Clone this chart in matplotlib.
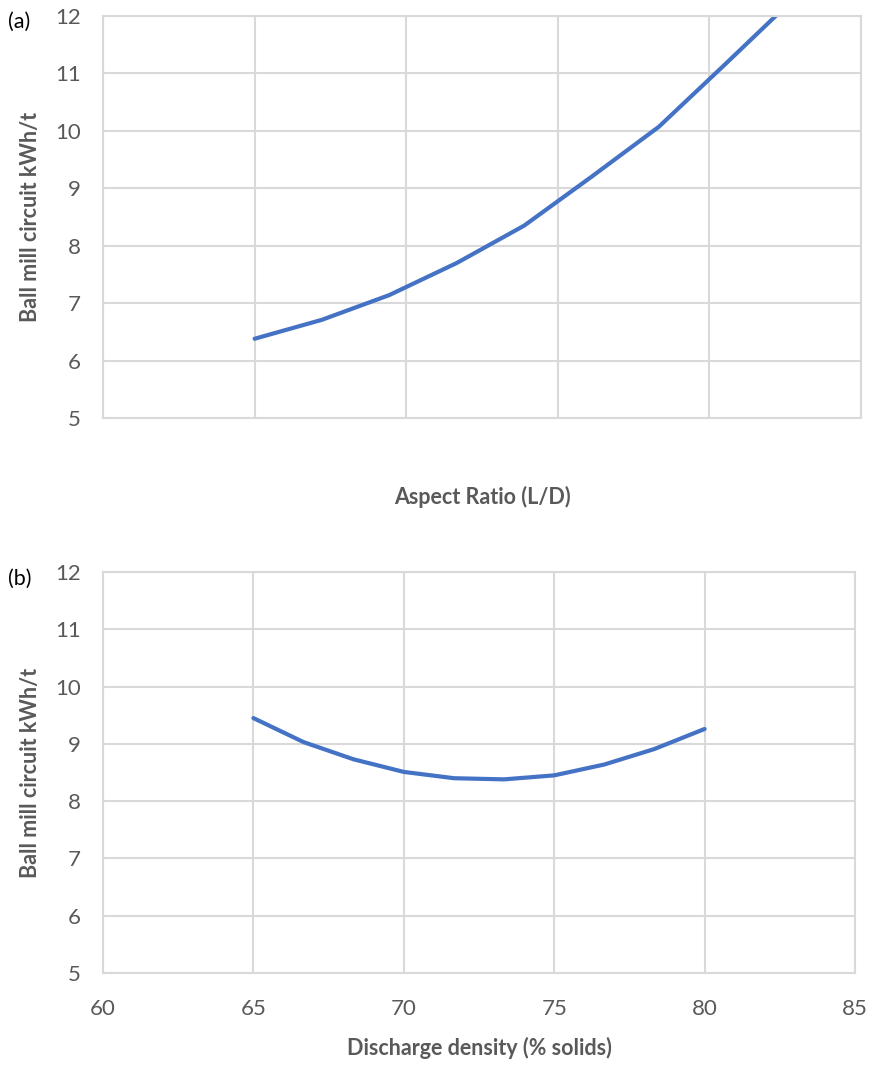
import numpy as np
import matplotlib.pyplot as plt

# ---- data ----
aspect_x = [65, 67.22, 69.44, 71.67, 73.89, 76.11, 78.33, 80.56, 82.78]
aspect_kwh = [6.38, 6.71, 7.14, 7.70, 8.35, 9.20, 10.07, 11.18, 12.30]

density_x = [65, 66.67, 68.33, 70, 71.67, 73.33, 75, 76.67, 78.33, 80]
density_kwh = [9.45, 9.03, 8.73, 8.51, 8.40, 8.38, 8.45, 8.64, 8.91, 9.26]

x_ticks = [60, 65, 70, 75, 80, 85]
y_ticks = [5, 6, 7, 8, 9, 10, 11, 12]

line_col = "#4472C4"
grid_col = "#D9D9D9"
text_col = "#595959"

plt.rcParams['font.family'] = ['Lato', 'DejaVu Sans']

fig = plt.figure(figsize=(8.7, 10.65), dpi=100)
ax_a = fig.add_axes([0.1184, 0.6075, 0.9897 - 0.1184, 0.985 - 0.6075])
ax_b = fig.add_axes([0.1184, 0.0864, 0.9828 - 0.1184, 0.4629 - 0.0864])

def style(ax, show_xlabels):
    ax.set_xlim(60, 85)
    ax.set_ylim(5, 12)
    ax.set_xticks(x_ticks)
    ax.set_yticks(y_ticks)
    ax.grid(True, color=grid_col, linewidth=1.5)
    ax.set_axisbelow(True)
    for s in ax.spines.values():
        s.set_color(grid_col)
        s.set_linewidth(1.5)
    ax.tick_params(length=0, labelsize=16, labelcolor=text_col)
    ax.tick_params(axis="y", pad=16)
    ax.tick_params(axis="x", pad=19)
    if not show_xlabels:
        ax.set_xticklabels([])
    ax.set_ylabel("Ball mill circuit kWh/t", fontsize=15.5, fontweight="bold",
                  color=text_col, labelpad=10)

# (a) aspect ratio
ax_a.plot(aspect_x, aspect_kwh, color=line_col, linewidth=3, solid_capstyle="round")
style(ax_a, False)
ax_a.set_xlabel("Aspect Ratio (L/D)", fontsize=15.5, fontweight="bold",
                color=text_col, labelpad=30)

# (b) discharge density
ax_b.plot(density_x, density_kwh, color=line_col, linewidth=3, solid_capstyle="round")
style(ax_b, True)
ax_b.set_xlabel("Discharge density (% solids)", fontsize=15.5, fontweight="bold",
                color=text_col, labelpad=13)

fig.text(8 / 870, 1 - 22 / 1065, "(a)", fontsize=15.5, color="black", va="center")
fig.text(8 / 870, 1 - 579 / 1065, "(b)", fontsize=15.5, color="black", va="center")

fig.savefig("out.png", dpi=100)
